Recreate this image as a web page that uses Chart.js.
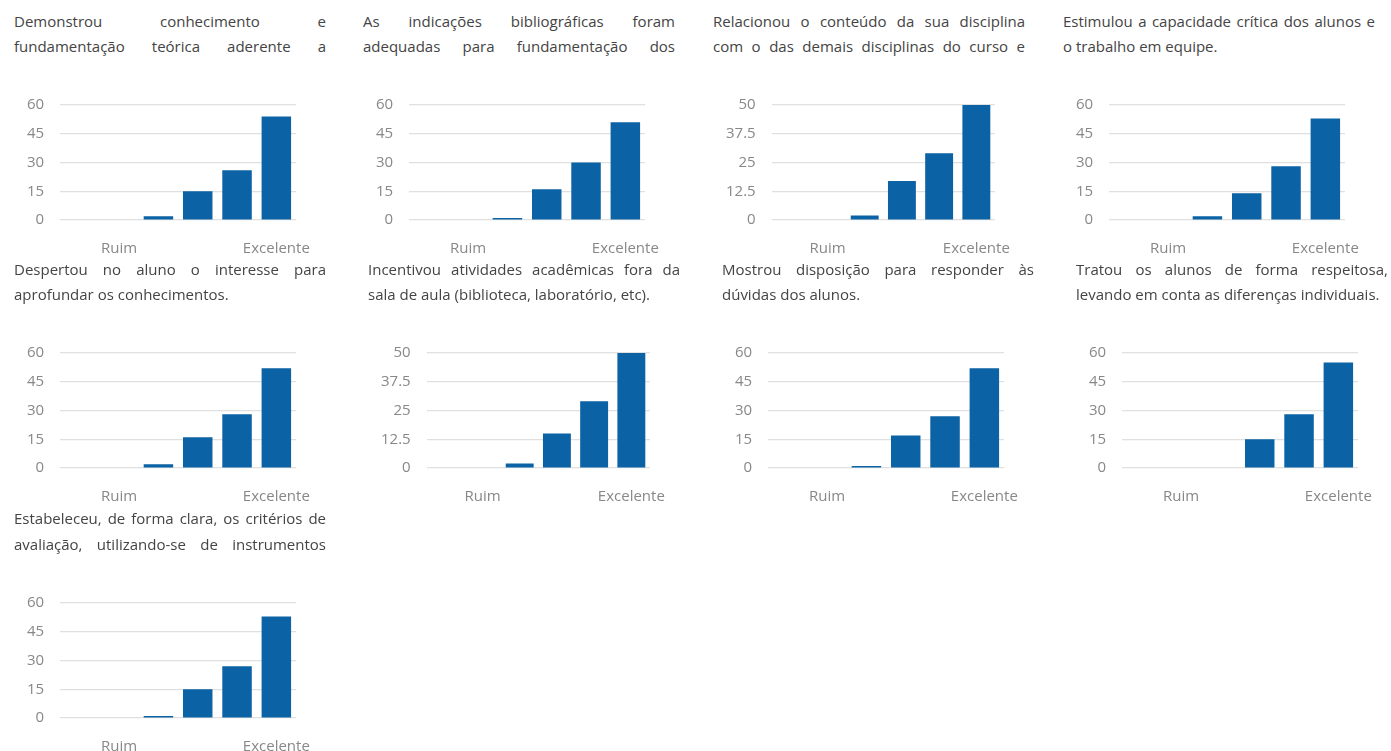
<!DOCTYPE html>
<html lang="pt-BR">
<head>
<meta charset="utf-8">
<title>Avaliação docente</title>
<script src="https://cdn.jsdelivr.net/npm/chart.js@4.4.0/dist/chart.umd.min.js"></script>
<style>
  body { margin: 0; background: #fff; font-family: "Open Sans", sans-serif; overflow: hidden; }
  .panel { position: absolute; width: 330px; height: 250px; }
  .title { position: absolute; left: 0; top: 8.5px; width: 312px; color: #444; font-size: 15px; }
  .title div { height: 25.5px; line-height: 25.5px; overflow: hidden; text-align: justify; }
  .title div.j { text-align-last: justify; }
  .panel canvas { position: absolute; left: -16px; top: 80px; }
</style>
</head>
<body>
<div id="wrap"></div>
<script>
// x categories (only first and last rating carry a label)
const labels = ['', 'Ruim', '', '', '', 'Excelente']

// question titles, as the two visible lines
const titles = [
    ['Demonstrou conhecimento e', 'fundamentação teórica aderente a'],
    ['As indicações bibliográficas foram', 'adequadas para fundamentação dos'],
    ['Relacionou o conteúdo da sua disciplina', 'com o das demais disciplinas do curso e'],
    ['Estimulou a capacidade crítica dos alunos e', 'o trabalho em equipe.'],
    ['Despertou no aluno o interesse para', 'aprofundar os conhecimentos.'],
    ['Incentivou atividades acadêmicas fora da', 'sala de aula (biblioteca, laboratório, etc).'],
    ['Mostrou disposição para responder às', 'dúvidas dos alunos.'],
    ['Tratou os alunos de forma respeitosa,', 'levando em conta as diferenças individuais.'],
    ['Estabeleceu, de forma clara, os critérios de', 'avaliação, utilizando-se de instrumentos']
]
// second line is cut off (still justified) for these
const cutTitle = [true, true, true, false, false, false, false, false, true]

// answers per question
const q1 = [0, 0, 2, 15, 26, 54]
const q2 = [0, 0, 1, 16, 30, 51]
const q3 = [0, 0, 2, 17, 29, 50]
const q4 = [0, 0, 2, 14, 28, 53]
const q5 = [0, 0, 2, 16, 28, 52]
const q6 = [0, 0, 2, 15, 29, 50]
const q7 = [0, 0, 1, 17, 27, 52]
const q8 = [0, 0, 0, 15, 28, 55]
const q9 = [0, 0, 1, 15, 27, 53]
const series = [q1, q2, q3, q4, q5, q6, q7, q8, q9]

// top of y axis for each chart
const yMax = [60, 60, 50, 60, 60, 50, 60, 60, 60]

// panel placement on the page
const panelLeft = [14, 363, 713, 1063, 14, 368, 722, 1076, 14]
const panelTop = [0, 0, 0, 0, 248, 248, 248, 248, 497.5]

Chart.defaults.font.family = '"Open Sans", sans-serif'
Chart.defaults.font.size = 15
Chart.defaults.color = '#888'

const wrap = document.getElementById('wrap')

series.forEach((values, i) => {
    const panel = document.createElement('div')
    panel.className = 'panel'
    panel.style.left = panelLeft[i] + 'px'
    panel.style.top = panelTop[i] + 'px'

    const title = document.createElement('div')
    title.className = 'title'
    titles[i].forEach((line, k) => {
        const d = document.createElement('div')
        d.textContent = line
        if (k == 0 || cutTitle[i]) d.className = 'j'
        title.appendChild(d)
    })
    panel.appendChild(title)

    const canvas = document.createElement('canvas')
    canvas.width = 336
    canvas.height = 198
    panel.appendChild(canvas)
    wrap.appendChild(panel)

    new Chart(canvas, {
        type: 'bar',
        data: {
            labels,
            datasets: [{
                data: values,
                backgroundColor: '#0b62a4',
                borderWidth: 0,
                categoryPercentage: 1,
                barPercentage: 0.75
            }]
        },
        options: {
            responsive: false,
            animation: false,
            events: [],
            layout: { padding: { left: 13, right: 38, top: 22, bottom: 0 } },
            scales: {
                x: {
                    grid: { display: false, drawTicks: false },
                    border: { display: false },
                    ticks: { autoSkip: false, maxRotation: 0, padding: 20 }
                },
                y: {
                    min: 0,
                    max: yMax[i],
                    grid: { color: '#e0e0e0', lineWidth: 1.2, drawTicks: false },
                    border: { display: false },
                    ticks: { stepSize: yMax[i] / 4, padding: 16 }
                }
            },
            plugins: {
                legend: { display: false },
                tooltip: { enabled: false }
            }
        }
    })
})
</script>
</body>
</html>
